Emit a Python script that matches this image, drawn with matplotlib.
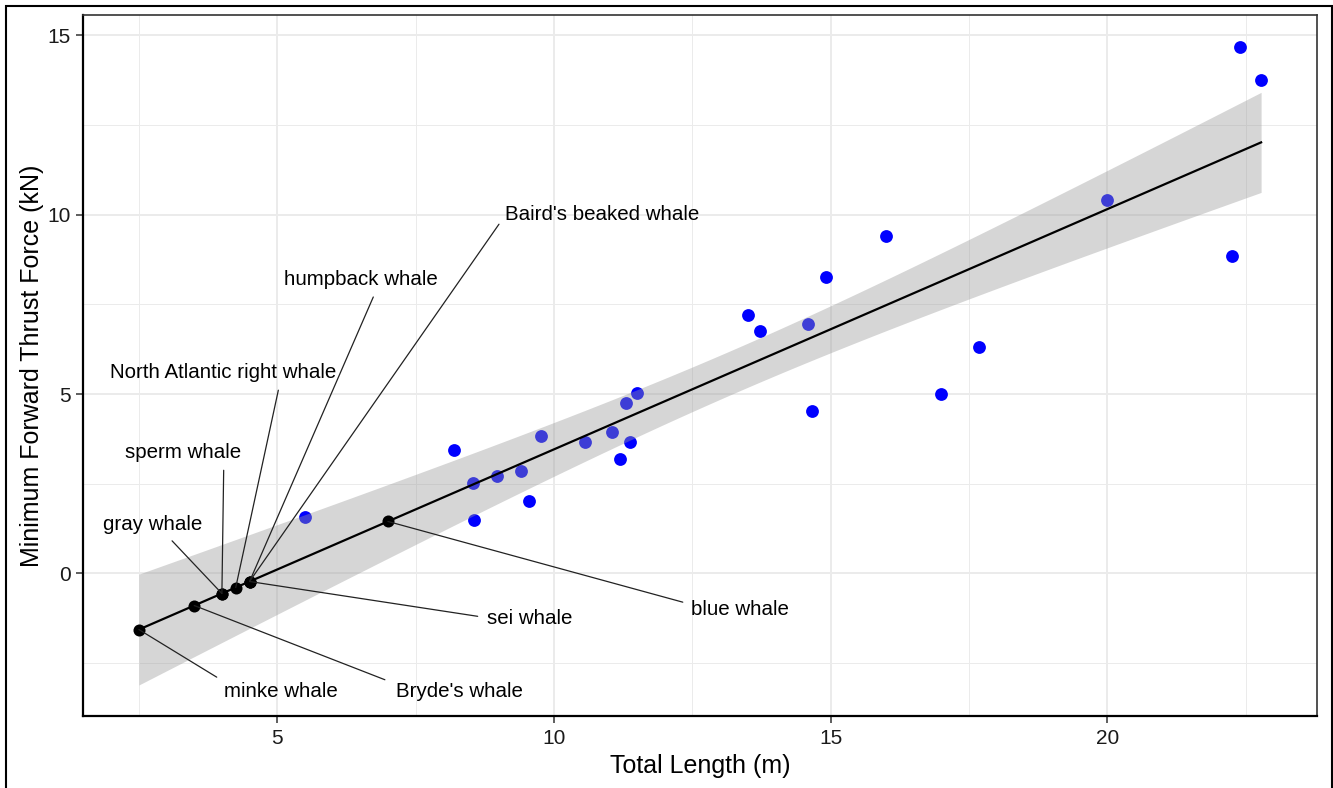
import numpy as np
import matplotlib
matplotlib.use('Agg')
from matplotlib import pyplot as plt
from matplotlib.patches import Rectangle
from matplotlib.ticker import MultipleLocator

plt.rcParams['font.family'] = ['Liberation Sans', 'DejaVu Sans']

# blue points: total length (m) vs minimum forward thrust force (kN)
length_m = [5.51, 8.19, 8.54, 8.55, 8.97, 9.40, 9.55, 9.77, 10.56, 11.05, 11.19, 11.30, 11.37,
            11.50, 13.50, 13.72, 14.60, 14.66, 14.91, 16.01, 17.00, 17.69, 20.00, 22.26, 22.40, 22.78]
thrust_kn = [1.56, 3.45, 2.51, 1.48, 2.70, 2.84, 2.01, 3.84, 3.65, 3.93, 3.20, 4.76, 3.65,
             5.04, 7.21, 6.77, 6.94, 4.54, 8.25, 9.42, 5.01, 6.30, 10.42, 8.86, 14.68, 13.76]

# whales placed on the fitted line
whales = ['minke whale', "Bryde's whale", 'gray whale', 'sperm whale', 'North Atlantic right whale',
          'humpback whale', "Baird's beaked whale", 'sei whale', 'blue whale']
whale_len = [2.5, 3.5, 4.0, 4.0, 4.25, 4.5, 4.5, 4.5, 7.0]
# label positions (data coords)
label_x = [5.07, 8.30, 2.75, 3.30, 4.03, 6.52, 10.87, 9.57, 13.36]
label_y = [-3.29, -3.29, 1.36, 3.37, 5.60, 8.19, 10.00, -1.25, -1.00]
# where each leader segment leaves its label box
seg_from = [(0.0, 1.0), (-0.05, 1.0), (0.63, 0.0), (0.85, 0.0), (0.75, 0.0),
            (0.6, 0.0), (0.0, 0.45), (-0.05, 0.55), (0.0, 0.75)]

x = np.array(length_m)
y = np.array(thrust_kn)
n = len(x)
b1, b0 = np.polyfit(x, y, 1)
resid = y - (b0 + b1 * x)
s = np.sqrt(np.sum(resid ** 2) / (n - 2))
sxx = np.sum((x - x.mean()) ** 2)
t_crit = 2.064  # t(0.975, df=24)

xs = np.linspace(min(whale_len), x.max(), 200)
fit = b0 + b1 * xs
se = s * np.sqrt(1 / n + (xs - x.mean()) ** 2 / sxx)

fig = plt.figure(figsize=(13.33, 7.88), dpi=100)
ax = fig.add_axes([83 / 1333, 72 / 788, (1317 - 83) / 1333, (716 - 15) / 788])

ax.scatter(x, y, s=85, color='#0000FF', linewidths=0, zorder=3)
ax.fill_between(xs, fit - t_crit * se, fit + t_crit * se, color='#999999', alpha=0.4,
                linewidth=0, zorder=4)
ax.plot(xs, fit, color='black', lw=1.6, zorder=5)

wl = np.array(whale_len)
wy = b0 + b1 * wl
ax.scatter(wl, wy, s=75, color='black', linewidths=0, zorder=6)

for name, px, py, lx, ly, rp in zip(whales, wl, wy, label_x, label_y, seg_from):
    ax.annotate(name, xy=(px, py), xytext=(lx, ly), ha='center', va='center',
                fontsize=14.8, color='black', zorder=7,
                arrowprops=dict(arrowstyle='-', color='#222222', lw=0.9,
                                relpos=rp, shrinkA=4, shrinkB=0))

ax.set_xlim(1.49, 23.79)
ax.set_ylim(-3.98, 15.57)
ax.xaxis.set_major_locator(MultipleLocator(5))
ax.xaxis.set_minor_locator(MultipleLocator(2.5))
ax.yaxis.set_major_locator(MultipleLocator(5))
ax.yaxis.set_minor_locator(MultipleLocator(2.5))
ax.grid(which='major', color='#EBEBEB', lw=1.4, zorder=0)
ax.grid(which='minor', color='#EBEBEB', lw=0.7, zorder=0)
ax.set_axisbelow(True)
ax.tick_params(which='major', length=5, width=1.1, color='#333333', labelsize=15,
               labelcolor='#1A1A1A', pad=4)
ax.tick_params(which='minor', length=0)
for side in ['top', 'right']:
    ax.spines[side].set_color('#333333')
    ax.spines[side].set_linewidth(1.2)
for side in ['left', 'bottom']:
    ax.spines[side].set_color('black')
    ax.spines[side].set_linewidth(1.6)

ax.set_xlabel('Total Length (m)', fontsize=18, labelpad=5)
ax.set_ylabel('Minimum Forward Thrust Force (kN)', fontsize=18, labelpad=2)

# outer frame (open at the bottom)
fig.add_artist(Rectangle((6 / 1333, -0.05), 1326 / 1333, 1.05 - 6 / 788,
                         transform=fig.transFigure, fill=False, edgecolor='black',
                         lw=1.5, clip_on=False))

plt.savefig('out.png', dpi=100)
